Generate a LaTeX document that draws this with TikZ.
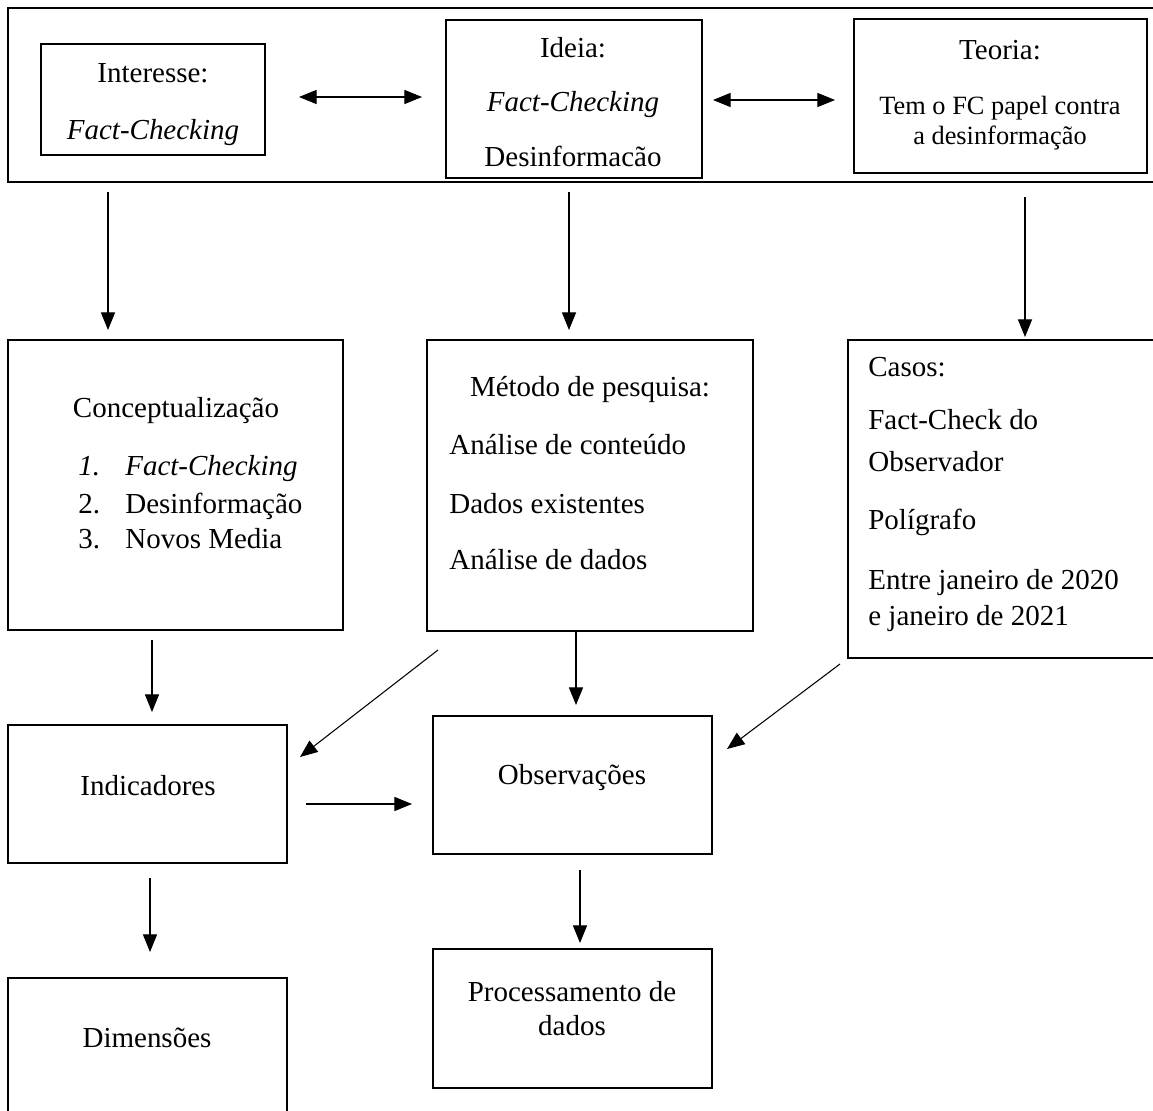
\documentclass[tikz,border=0pt]{standalone}
\usepackage{fontspec}
\setmainfont{Liberation Serif}
\usepackage{tikz}
\usetikzlibrary{calc,arrows.meta}

\tikzset{
  box/.style={draw, line width=1.3pt, inner sep=0pt, outer sep=0pt},
  arr/.style={-{Triangle[length=10pt,width=8pt]}, line width=0.6pt},
  dbl/.style={{Triangle[length=10pt,width=8pt]}-{Triangle[length=10pt,width=8pt]}, line width=0.6pt},
  txt/.style={anchor=base, inner sep=0pt},
  ltxt/.style={anchor=base west, inner sep=0pt},
}

\begin{document}
\begin{tikzpicture}[x=0.02cm, y=-0.02cm,
  every node/.append style={font=\fontsize{16.5}{20}\selectfont}]
\useasboundingbox (0,0) rectangle (1153,1111);

% boxes
\node[box, minimum width=1162*0.02cm, minimum height=174*0.02cm] (quadro) at (589,95) {};
\node[box, minimum width=224*0.02cm, minimum height=111*0.02cm] (interesse) at (153,99.5) {};
\node[box, minimum width=256*0.02cm, minimum height=158*0.02cm] (ideia) at (574,99) {};
\node[box, minimum width=293*0.02cm, minimum height=154*0.02cm] (teoria) at (1000.5,96) {};
\node[box, minimum width=335*0.02cm, minimum height=290*0.02cm] (concept) at (175.5,485) {};
\node[box, minimum width=326*0.02cm, minimum height=291*0.02cm] (metodo) at (590,485.5) {};
\node[box, minimum width=317*0.02cm, minimum height=318*0.02cm] (casos) at (1006.5,499) {};
\node[box, minimum width=279*0.02cm, minimum height=138*0.02cm] (indic) at (147.5,794) {};
\node[box, minimum width=279*0.02cm, minimum height=138*0.02cm] (observ) at (572.5,785) {};
\node[box, minimum width=279*0.02cm, minimum height=152*0.02cm] (dimens) at (147.5,1054) {};
\node[box, minimum width=279*0.02cm, minimum height=139*0.02cm] (proc) at (572.5,1018.5) {};

% texts
\node[txt] (t-int1) at (153,83) {Interesse:};
\node[txt] (t-int2) at (153,140) {\itshape Fact-Checking};
\node[txt] (t-ide1) at (573,58) {Ideia:};
\node[txt] (t-ide2) at (573,112) {\itshape Fact-Checking};
\node[txt] (t-ide3) at (573,167) {Desinformacão};
\node[txt] (t-teo1) at (1000,60) {Teoria:};
\node[txt, font=\fontsize{15}{18}\selectfont] (t-teo2) at (1000,115) {Tem o FC papel contra};
\node[txt, font=\fontsize{15}{18}\selectfont] (t-teo3) at (1000,145) {a desinformação};

\node[txt] (t-con) at (176,418) {Conceptualização};
\node[ltxt] (n1) at (78,476) {\itshape 1.};
\node[ltxt] (n2) at (78,513) {2.};
\node[ltxt] (n3) at (78,548) {3.};
\node[ltxt] (l1) at (125,476) {\itshape Fact-Checking};
\node[ltxt] (l2) at (125,513) {Desinformação};
\node[ltxt] (l3) at (125,548) {Novos Media};

\node[txt] (t-met) at (590,397) {Método de pesquisa:};
\node[ltxt] (m1) at (449,455) {Análise de conteúdo};
\node[ltxt] (m2) at (449,513) {Dados existentes};
\node[ltxt] (m3) at (449,569) {Análise de dados};

\node[ltxt] (c1) at (868,377) {Casos:};
\node[ltxt] (c2) at (868,430) {Fact-Check do};
\node[ltxt] (c3) at (868,472) {Observador};
\node[ltxt] (c4) at (868,529) {Polígrafo};
\node[ltxt] (c5) at (868,589) {Entre janeiro de 2020};
\node[ltxt] (c6) at (868,625) {e janeiro de 2021};

\node[txt] (t-ind) at (148,795) {Indicadores};
\node[txt] (t-obs) at (572,784) {Observações};
\node[txt] (t-dim) at (147,1047) {Dimensões};
\node[txt] (t-pro1) at (572,1001) {Processamento de};
\node[txt] (t-pro2) at (572,1035) {dados};

% top row links
\draw[dbl, shorten <=0.68cm, shorten >=0.48cm] (interesse.east |- 0,97) -- (ideia.west |- 0,97);
\draw[dbl, shorten <=0.22cm, shorten >=0.38cm] (ideia.east |- 0,100) -- (teoria.west |- 0,100);

% down arrows
\draw[arr, shorten <=0.2cm, shorten >=0.2cm] (quadro.south -| 108,0) -- (concept.north -| 108,0);
\draw[arr, shorten <=0.2cm, shorten >=0.2cm] (quadro.south -| 569,0) -- (metodo.north -| 569,0);
\draw[arr, shorten <=0.3cm, shorten >=0.06cm] (quadro.south -| 1025,0) -- (casos.north -| 1025,0);
\draw[arr, shorten <=0.2cm, shorten >=0.26cm] (concept.south -| 152,0) -- (indic.north -| 152,0);
\draw[arr, shorten >=0.22cm] (metodo.south -| 576,0) -- (observ.north -| 576,0);
\draw[arr, shorten <=0.3cm, shorten >=0.52cm] (indic.south -| 150,0) -- (dimens.north -| 150,0);
\draw[arr, shorten <=0.32cm, shorten >=0.12cm] (observ.south -| 580,0) -- (proc.north -| 580,0);

% diagonals and the side arrow
\draw[arr] ($(metodo.south west)+(11,19)$) -- ($(indic.east)+(13,-37)$);
\draw[arr] ($(casos.south west)+(-8,6)$) -- ($(observ.east)+(15,-36)$);
\draw[arr, shorten <=0.38cm, shorten >=0.42cm] (indic.east |- 0,804) -- (observ.west |- 0,804);
\end{tikzpicture}
\end{document}
